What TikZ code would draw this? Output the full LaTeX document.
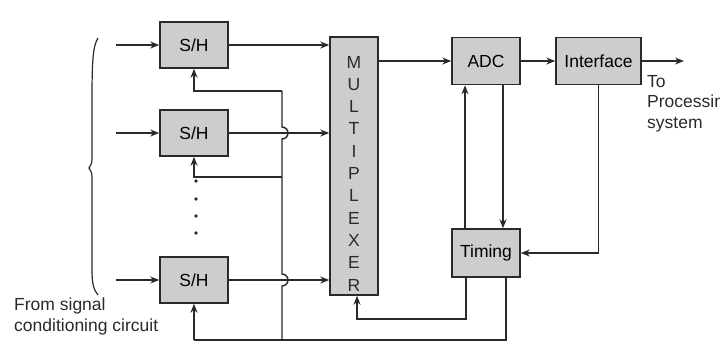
\documentclass[tikz,border=0pt]{standalone}
\usepackage{fontspec}
\setmainfont{Liberation Sans}
\usetikzlibrary{arrows.meta,calc}
\definecolor{ink}{HTML}{2A2A2A}
\definecolor{boxfill}{HTML}{CDCDCD}
\tikzset{
  blk/.style={draw=ink, line width=1.5pt, fill=boxfill, minimum width=68pt, minimum height=46pt, inner sep=0pt, font=\fontsize{17.5}{20}\selectfont},
  wire/.style={draw=ink, line width=1.4pt},
  arr/.style={wire, -{Stealth[length=9pt,width=7pt]}},
  lbl/.style={font=\fontsize{17.5}{20.5}\selectfont, text=ink, inner sep=0pt, align=left},
  letter/.style={font=\fontsize{17.5}{20}\selectfont, text=ink, inner sep=0pt},
}
\begin{document}
\begin{tikzpicture}[x=1pt,y=-1pt]
\useasboundingbox (0,0) rectangle (720,341);
% blocks
\node[blk] (sh1) at (194,45) {S/H};
\node[blk] (sh2) at (194,133) {S/H};
\node[blk] (sh3) at (194,280) {S/H};
\node[blk, minimum width=48pt, minimum height=258pt] (mux) at (354,166) {};
\foreach \l [count=\i] in {M,U,L,T,I,P,L,E,X,E,R}
  \node[letter] (m\i) at (354,{62+22.3*(\i-1)}) {\l};
\node[blk, minimum height=47pt] (adc) at (486,61) {ADC};
\node[blk, minimum width=85pt, minimum height=47pt] (iface) at (598.5,61) {Interface};
\node[blk, minimum height=48pt] (timing) at (486,253) {Timing};
% texts
\node[lbl, anchor=north west] (to) at (647,75) {To\\Processing\\system};
\node[lbl, anchor=north west] (from) at (14,298) {From signal\\conditioning circuit};
% brace
\draw[wire, line width=1.2pt] (98,38) .. controls (93,46) and (92,60) .. (92,100) -- (92,155) .. controls (92,163) .. (89,168) .. controls (92,173) .. (92,181) -- (92,270) .. controls (92,285) and (94,290) .. (98,295);
% inputs
\coordinate (i1) at (116,45);
\coordinate (i2) at (116,133);
\coordinate (i3) at (116,280);
\draw[arr] (i1) -- (sh1.west);
\draw[arr] (i2) -- (sh2.west);
\draw[arr] (i3) -- (sh3.west);
% S/H outputs to mux
\draw[arr] (sh1.east) -- (sh1.east -| mux.west);
\draw[arr] (sh2.east) -- (sh2.east -| mux.west);
\draw[arr] (sh3.east) -- (sh3.east -| mux.west);
% control bus with hops
\coordinate (bt) at (282,91);
\coordinate (bm) at (282,177);
\coordinate (bb) at (282,340);
\coordinate (lb) at (194,340);
\draw[wire] (bt) -- (282,127) arc[start angle=-90, end angle=90, radius=6] -- (282,274) arc[start angle=-90, end angle=90, radius=6] -- (bb);
\draw[arr] (bt) -| (sh1.south);
\draw[arr] (bm) -| (sh2.south);
\draw[arr] (lb) -- (sh3.south);
\foreach \yy [count=\k] in {181,199,216,233}
  \fill[ink] (196,\yy) circle[radius=1.9] coordinate (d\k);
% mux -> ADC -> Interface -> out
\coordinate (muxo) at (mux.east |- adc.west);
\draw[arr] (muxo) -- (adc.west);
\draw[arr] (adc.east) -- (iface.west);
\coordinate (outp) at (684,61);
\draw[arr] (iface.east) -- (outp);
% ADC <-> timing
\draw[arr] ([xshift=17pt]adc.south) -- ([xshift=17pt]timing.north);
\draw[arr] ([xshift=-21pt]timing.north) -- ([xshift=-21pt]adc.south);
% interface -> timing
\draw[arr] (iface.south) |- (timing.east);
% timing -> mux
\coordinate (tm) at (466,319);
\draw[arr] ([xshift=-20pt]timing.south) -- (tm) -| ([xshift=3pt]mux.south);
% timing -> S/H bus (bottom)
\draw[wire] ([xshift=20pt]timing.south) |- (lb);
\end{tikzpicture}
\end{document}
